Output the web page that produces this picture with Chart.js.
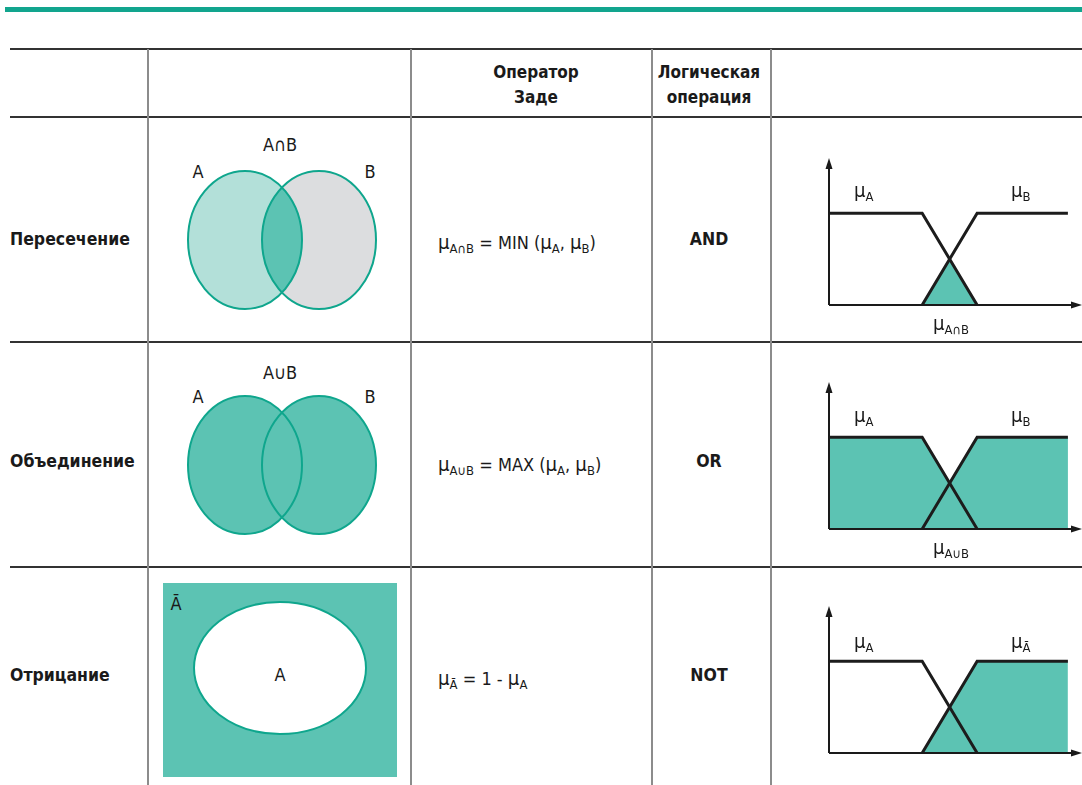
<!DOCTYPE html>
<html lang="ru">
<head>
<meta charset="utf-8">
<script src="https://cdn.jsdelivr.net/npm/chart.js@4.4.1/dist/chart.umd.min.js"></script>
<style>
  html, body { margin: 0; padding: 0; background: #fff; }
  body {
    width: 1082px; height: 785px; position: relative; overflow: hidden;
    font-family: "Liberation Sans Narrow", "DejaVu Sans Condensed", "Liberation Sans", sans-serif;
    color: #1a1a1a;
  }
  .t { position: absolute; white-space: nowrap; font-size: 18px; line-height: 1; }
  .c { transform: translate(-50%, -50%); text-align: center; }
  .l { transform: translate(0, -50%); }
  .b { font-weight: bold; font-size: 17.5px; }
  .hd { font-size: 17px; line-height: 25px; }
  .mu { font-size: 1.12em; }
  sub { font-size: 0.72em; vertical-align: -0.35em; line-height: 0; }
  .hl { position: absolute; left: 10px; width: 1072px; height: 2px; background: #333; }
  .vl { position: absolute; top: 49px; height: 736px; width: 2px; background: #8c8c8c; }
  canvas { position: absolute; }
</style>
</head>
<body>

<div style="position:absolute;left:5px;top:7px;width:1077px;height:5px;background:#12a58e"></div>

<div class="hl" style="top:48px"></div>
<div class="hl" style="top:116px"></div>
<div class="hl" style="top:341px"></div>
<div class="hl" style="top:566px"></div>
<div class="vl" style="left:147px"></div>
<div class="vl" style="left:410px"></div>
<div class="vl" style="left:651px"></div>
<div class="vl" style="left:770px"></div>

<div class="t c b hd" style="left:536px;top:85px">Оператор<br>Заде</div>
<div class="t c b hd" style="left:709px;top:85px">Логическая<br>операция</div>

<svg width="1082" height="785" style="position:absolute;left:0;top:0">
  <defs>
    <clipPath id="clipB"><ellipse cx="319" cy="240" rx="57" ry="69"/></clipPath>
  </defs>
  <!-- intersection -->
  <ellipse cx="245" cy="240" rx="57" ry="69" fill="#b3e0d9"/>
  <ellipse cx="319" cy="240" rx="57" ry="69" fill="#dcdddf"/>
  <ellipse cx="245" cy="240" rx="57" ry="69" fill="#5cc3b3" clip-path="url(#clipB)"/>
  <ellipse cx="245" cy="240" rx="57" ry="69" fill="none" stroke="#0fa68d" stroke-width="2"/>
  <ellipse cx="319" cy="240" rx="57" ry="69" fill="none" stroke="#0fa68d" stroke-width="2"/>
  <!-- union -->
  <ellipse cx="245" cy="465" rx="57" ry="69" fill="#5cc3b3"/>
  <ellipse cx="319" cy="465" rx="57" ry="69" fill="#5cc3b3"/>
  <ellipse cx="245" cy="465" rx="57" ry="69" fill="none" stroke="#0fa68d" stroke-width="2"/>
  <ellipse cx="319" cy="465" rx="57" ry="69" fill="none" stroke="#0fa68d" stroke-width="2"/>
  <!-- negation -->
  <rect x="163" y="583" width="234" height="194" fill="#5cc3b3"/>
  <ellipse cx="280" cy="668" rx="86" ry="66" fill="#fff" stroke="#0fa68d" stroke-width="2"/>
</svg>

<div class="t c" style="left:280px;top:145px">A∩B</div>
<div class="t c" style="left:198px;top:172px">A</div>
<div class="t c" style="left:370px;top:172px">B</div>
<div class="t c" style="left:280px;top:373px">A∪B</div>
<div class="t c" style="left:198px;top:397px">A</div>
<div class="t c" style="left:370px;top:397px">B</div>
<div class="t c" style="left:176px;top:604px">Ā</div>
<div class="t c" style="left:280px;top:675px">A</div>

<div id="rows"></div>

<canvas id="ch0" width="267" height="165" style="left:815px;top:150px"></canvas>
<canvas id="ch1" width="267" height="165" style="left:815px;top:374px"></canvas>
<canvas id="ch2" width="267" height="165" style="left:815px;top:598px"></canvas>

<div class="t l" style="left:854px;top:190px"><span class="mu">μ</span><sub>A</sub></div>
<div class="t l" style="left:1011px;top:190px"><span class="mu">μ</span><sub>B</sub></div>
<div class="t c" style="left:951px;top:323px"><span class="mu">μ</span><sub>A∩B</sub></div>
<div class="t l" style="left:854px;top:415px"><span class="mu">μ</span><sub>A</sub></div>
<div class="t l" style="left:1011px;top:415px"><span class="mu">μ</span><sub>B</sub></div>
<div class="t c" style="left:951px;top:547px"><span class="mu">μ</span><sub>A∪B</sub></div>
<div class="t l" style="left:854px;top:641px"><span class="mu">μ</span><sub>A</sub></div>
<div class="t l" style="left:1011px;top:641px"><span class="mu">μ</span><sub>Ā</sub></div>

<script>
// table text
const rowNames = ['Пересечение', 'Объединение', 'Отрицание'];
const formulas = [
  '<span class="mu">μ</span><sub>A∩B</sub> = MIN (<span class="mu">μ</span><sub>A</sub>, <span class="mu">μ</span><sub>B</sub>)',
  '<span class="mu">μ</span><sub>A∪B</sub> = MAX (<span class="mu">μ</span><sub>A</sub>, <span class="mu">μ</span><sub>B</sub>)',
  '<span class="mu">μ</span><sub>Ā</sub> = 1 - <span class="mu">μ</span><sub>A</sub>'
];
const operations = ['AND', 'OR', 'NOT'];
const rowMid = [240, 462, 676];

// membership functions (x in arbitrary units, y = degree)
const muA_x = [0, 39, 62];
const muA_y = [1, 1, 0];
const muB_x = [39, 62, 100];
const muB_y = [0, 1, 1];
const minFill_x = [39, 50.5, 62];
const minFill_y = [0, 0.5, 0];
const maxFill_x = [0, 39, 50.5, 62, 100];
const maxFill_y = [1, 1, 0.5, 1, 1];
const notFill_x = [39, 62, 100];
const notFill_y = [0, 1, 1];

const rows = document.getElementById('rows');
rowNames.forEach((name, i) => {
  const y = rowMid[i];
  rows.insertAdjacentHTML('beforeend',
    `<div class="t l b" style="left:10px;top:${y}px">${name}</div>` +
    `<div class="t l" style="left:438px;top:${y + 2}px">${formulas[i]}</div>` +
    `<div class="t c b" style="left:709px;top:${y}px">${operations[i]}</div>`);
});

const pts = (xs, ys) => xs.map((x, i) => ({ x: x, y: ys[i] }));

const axesPlugin = {
  id: 'arrowAxes',
  afterDatasetsDraw(c) {
    const ctx = c.ctx;
    const x0 = c.scales.x.getPixelForValue(0);
    const y0 = c.scales.y.getPixelForValue(0);
    const top = c.chartArea.top;
    const right = c.chartArea.right;
    ctx.save();
    ctx.strokeStyle = '#1a1a1a';
    ctx.fillStyle = '#1a1a1a';
    ctx.lineWidth = 2;
    ctx.beginPath();
    ctx.moveTo(x0, y0);
    ctx.lineTo(x0, top + 8);
    ctx.moveTo(x0, y0);
    ctx.lineTo(right - 8, y0);
    ctx.stroke();
    // arrow heads
    ctx.beginPath();
    ctx.moveTo(x0, top);
    ctx.lineTo(x0 - 3.5, top + 11);
    ctx.lineTo(x0 + 3.5, top + 11);
    ctx.closePath();
    ctx.fill();
    ctx.beginPath();
    ctx.moveTo(right, y0);
    ctx.lineTo(right - 11, y0 - 3.5);
    ctx.lineTo(right - 11, y0 + 3.5);
    ctx.closePath();
    ctx.fill();
    ctx.restore();
  }
};

function lineSet(data) {
  return {
    data: data, borderColor: '#1c1c1c', borderWidth: 3, fill: false,
    pointRadius: 0, tension: 0, order: 1, clip: 8, borderJoinStyle: 'miter'
  };
}
function fillSet(data) {
  return {
    data: data, borderWidth: 0, borderColor: 'rgba(0,0,0,0)', backgroundColor: '#5cc3b3',
    fill: 'origin', pointRadius: 0, tension: 0, order: 3, clip: 8
  };
}

const fills = [pts(minFill_x, minFill_y), pts(maxFill_x, maxFill_y), pts(notFill_x, notFill_y)];

fills.forEach((f, i) => {
  new Chart(document.getElementById('ch' + i), {
    type: 'line',
    data: {
      datasets: [
        lineSet(pts(muA_x, muA_y)),
        lineSet(pts(muB_x, muB_y)),
        fillSet(f)
      ]
    },
    options: {
      responsive: false,
      animation: false,
      devicePixelRatio: 1,
      events: [],
      layout: { padding: { left: 14, top: 8, bottom: 10, right: 0 } },
      scales: {
        x: { type: 'linear', min: 0, max: 105.9, display: false },
        y: { type: 'linear', min: 0, max: 1.6, display: false }
      },
      plugins: { legend: { display: false }, tooltip: { enabled: false } }
    },
    plugins: [axesPlugin]
  });
});
</script>
</body>
</html>
